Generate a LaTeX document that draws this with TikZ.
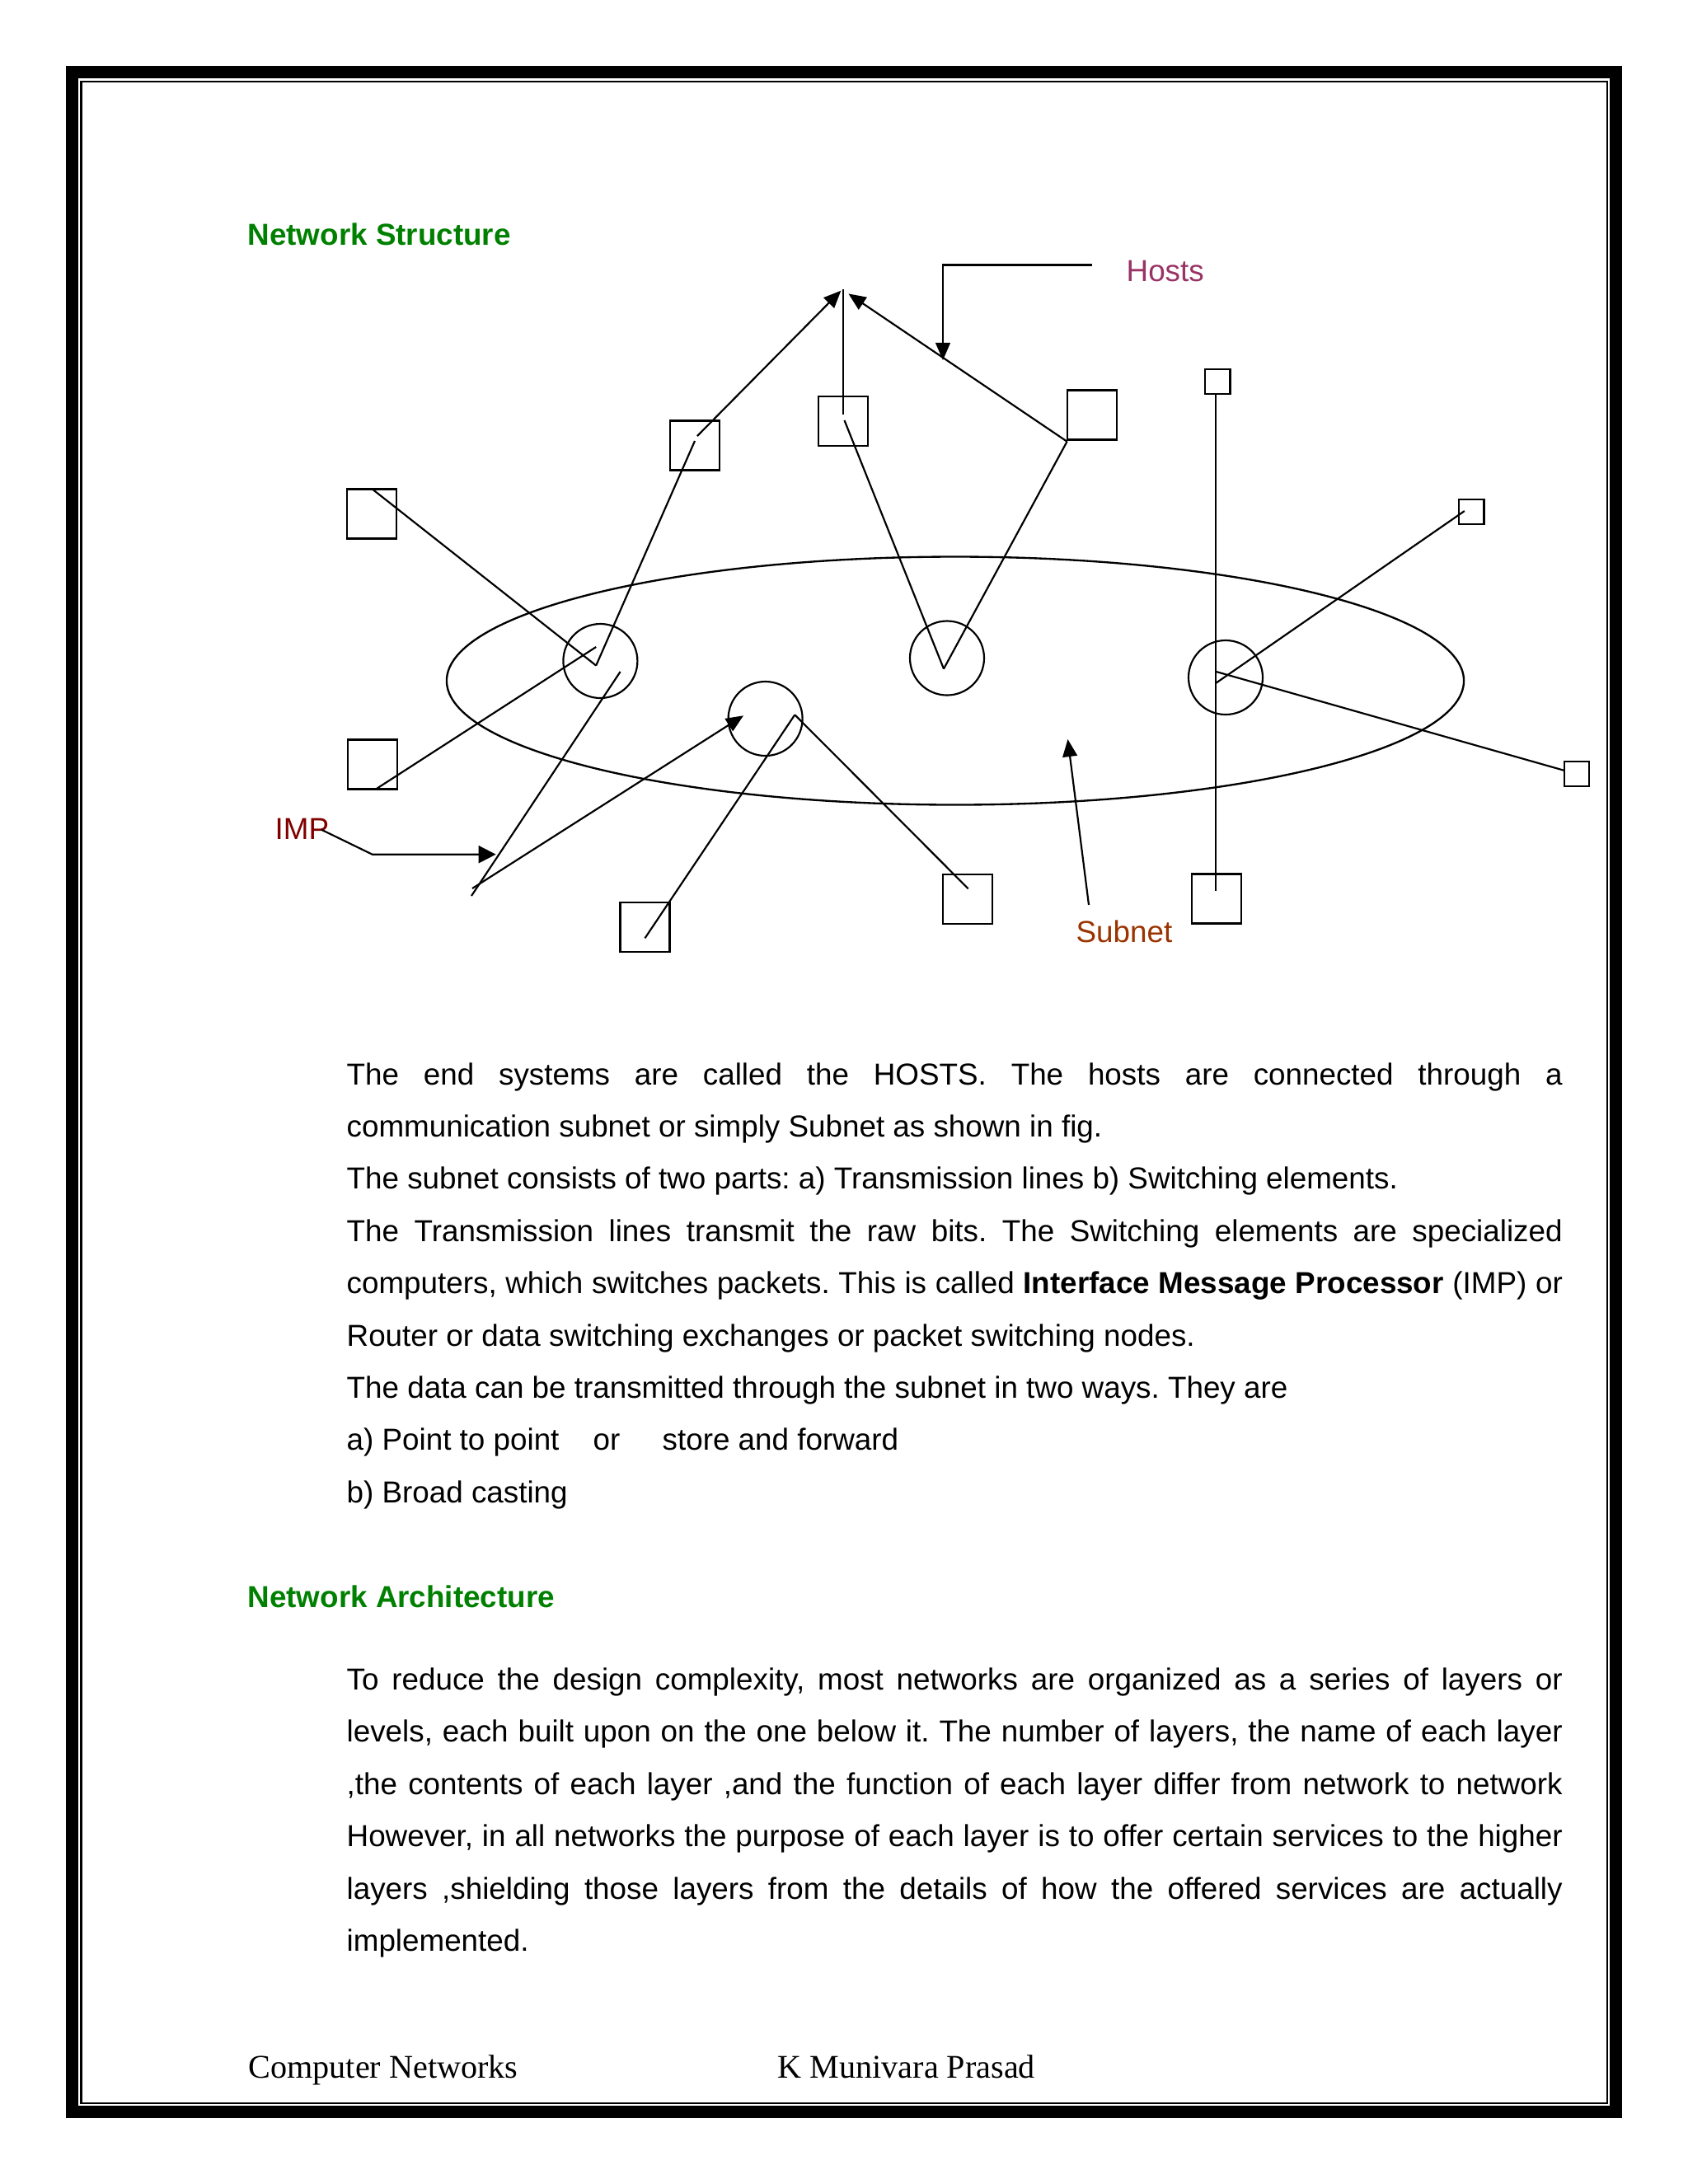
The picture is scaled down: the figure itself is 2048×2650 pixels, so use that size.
\documentclass[tikz,border=0pt]{standalone}
\usepackage{fontspec}
\setmainfont{Liberation Sans}
\newfontfamily\serifft{Liberation Serif}
\usetikzlibrary{arrows.meta,shapes.geometric}
\definecolor{headgreen}{RGB}{0,128,0}
\definecolor{hostcol}{RGB}{153,51,102}
\definecolor{impcol}{RGB}{128,0,0}
\definecolor{subcol}{RGB}{153,51,0}
\newcommand{\jline}[1]{\makebox[440.8pt][s]{#1}}
\begin{document}
\frenchspacing
\begin{tikzpicture}[x=0.29883pt,y=-0.29883pt,
  hostbox/.style={draw,line width=0.65pt,inner sep=0pt,minimum size=17.93pt},
  smallbox/.style={draw,line width=0.65pt,inner sep=0pt,minimum size=9pt},
  impnode/.style={draw,circle,line width=0.65pt,inner sep=0pt,minimum size=26.9pt},
  wire/.style={line width=0.65pt},
  arr/.style={wire,-{Triangle[length=6.3pt,width=5.3pt]}},
  bigarr/.style={wire,-{Triangle[length=6.3pt,width=6.3pt]}},
  bodytext/.style={anchor=base west,inner sep=0pt,font=\fontsize{11}{13}\selectfont},
  headtext/.style={anchor=base west,inner sep=0pt,text=headgreen,font=\fontsize{11}{13}\selectfont\bfseries},
  labeltext/.style={anchor=base west,inner sep=0pt,font=\fontsize{11}{13}\selectfont},
  foottext/.style={anchor=base west,inner sep=0pt,font=\serifft\fontsize{12}{14}\selectfont}
]
\useasboundingbox (0,0) rectangle (2048,2650);
% page frame
\draw[line width=4.48pt] (87.5,87.5) rectangle (1960.5,2562.5);
\draw[line width=0.6pt] (98.5,98.5) rectangle (1949.5,2552);

% headings
\node[headtext] (h1) at (300,297) {Network Structure};
\node[headtext] (h2) at (300,1950) {Network Architecture};

% subnet ellipse
\node[draw,ellipse,line width=0.7pt,inner sep=0pt,minimum width=368.8pt,minimum height=89.95pt] (subnet) at (1159,826) {};

% IMPs
\node[impnode] (c1) at (728.4,802) {};
\node[impnode] (c2) at (928.6,872) {};
\node[impnode] (c3) at (1149,798.5) {};
\node[impnode] (c4) at (1487,822) {};

% hosts
\node[hostbox] (b1) at (451.3,623.5) {};
\node[hostbox] (b2) at (451.8,927.5) {};
\node[hostbox] (b3) at (842.8,540.4) {};
\node[hostbox] (b4) at (1023.3,511) {};
\node[hostbox] (b5) at (1324.6,503.4) {};
\node[smallbox] (b6) at (1477.4,463.3) {};
\node[smallbox] (b7) at (1785.4,621) {};
\node[smallbox] (b8) at (1912.7,938.8) {};
\node[hostbox] (b9) at (1174.4,1091.2) {};
\node[hostbox] (b10) at (1476,1090.5) {};
\node[hostbox] (b11) at (782.5,1125) {};

% connection points
\coordinate (apexL) at (1020.4,352.6);
\coordinate (apexM) at (1023,351);
\coordinate (apexR) at (1029.4,356.4);
\coordinate (v1) at (723.2,807.5);
\coordinate (c1a) at (723.2,785);
\coordinate (c1b) at (752.6,815);
\coordinate (b1t) at (451.5,593.3);
\coordinate (b2b) at (457.3,956.7);
\coordinate (b3lo) at (843,535);
\coordinate (b3hi) at (846,529);
\coordinate (b4hi) at (1023,502.6);
\coordinate (b4lo) at (1024.5,510);
\coordinate (v3) at (1145,811.5);
\coordinate (b5c) at (1294.6,535.7);
\coordinate (lowA) at (572,1087);
\coordinate (lowB) at (573,1078);
\coordinate (c2tip) at (902,868.3);
\coordinate (c2r) at (964.3,867.3);
\coordinate (b11p) at (782.5,1138.3);
\coordinate (b9p) at (1174.7,1078.3);
\coordinate (b6b) at (1475,478.6);
\coordinate (b10p) at (1475,1081);
\coordinate (c4a) at (1475,829);
\coordinate (c4b) at (1475,814.8);
\coordinate (b7p) at (1776.8,620);
\coordinate (b8p) at (1897.3,934.7);

% host-IMP lines
\draw[wire] (b1t) -- (v1);
\draw[wire] (b2b) -- (c1a);
\draw[wire] (b3lo) -- (v1);
\draw[arr] (b3hi) -- (apexL);
\draw[wire] (b4hi) -- (apexM);
\draw[wire] (b4lo) -- (v3);
\draw[wire] (b5c) -- (v3);
\draw[arr] (b5c) -- (apexR);
\draw[wire] (c1b) -- (lowA);
\draw[arr] (lowB) -- (c2tip);
\draw[wire] (c2r) -- (b11p);
\draw[wire] (c2r) -- (b9p);
\draw[wire] (b6b) -- (b10p);
\draw[wire] (c4a) -- (b7p);
\draw[wire] (c4b) -- (b8p);

% labels
\node[labeltext,text=hostcol] (hosts) at (1366,341) {Hosts};
\node[labeltext,text=impcol] (imp) at (333,1018) {IMP};
\node[labeltext,text=subcol] (sublab) at (1305,1143) {Subnet};
\coordinate (hostsL) at (1325,321.4);
\coordinate (hostsK) at (1144,321.4);
\coordinate (hostsT) at (1144,437);
\draw[arr] (hostsL) -- (hostsK) -- (hostsT);
\coordinate (impS) at (390,1006.7);
\coordinate (impK) at (451.7,1036.7);
\coordinate (impT) at (601.7,1036.7);
\draw[bigarr] (impS) -- (impK) -- (impT);
\coordinate (subS) at (1321,1098);
\coordinate (subT) at (1295.5,897);
\draw[arr] (subS) -- (subT);

% body text, paragraph 1
\node[bodytext] (p1) at (420,1316) {\jline{The end systems are called the HOSTS. The hosts are connected through a}};
\node[bodytext] (p2) at (420,1379.4) {communication subnet or simply Subnet as shown in fig.};
\node[bodytext] (p3) at (420,1442.8) {The subnet consists of two parts: a) Transmission lines b) Switching elements.};
\node[bodytext] (p4) at (420,1506.2) {\jline{The Transmission lines transmit the raw bits. The Switching elements are specialized}};
\node[bodytext] (p5) at (420,1569.6) {\jline{computers, which switches packets. This is called \textbf{Interface Message Processor} (IMP) or}};
\node[bodytext] (p6) at (420,1633) {Router or data switching exchanges or packet switching nodes.};
\node[bodytext] (p7) at (420,1696.4) {The data can be transmitted through the subnet in two ways. They are};
\node[bodytext] (p8) at (420,1759.8) {a) Point to point};
\node[bodytext] (p8b) at (719,1759.8) {or};
\node[bodytext] (p8c) at (803,1759.8) {store and forward};
\node[bodytext] (p9) at (420,1823.2) {b) Broad casting};

% paragraph 2
\node[bodytext] (q1) at (420,2050.5) {\jline{To reduce the design complexity, most networks are organized as a series of layers or}};
\node[bodytext] (q2) at (420,2113.9) {\jline{levels, each built upon on the one below it. The number of layers, the name of each layer}};
\node[bodytext] (q3) at (420,2177.3) {\jline{,the contents of each layer ,and the function of each layer differ from network to network}};
\node[bodytext] (q4) at (420,2240.7) {\jline{However, in all networks the purpose of each layer is to offer certain services to the higher}};
\node[bodytext] (q5) at (420,2304.1) {\jline{layers ,shielding those layers from the details of how the offered services are actually}};
\node[bodytext] (q6) at (420,2367.5) {implemented.};

% footer
\node[foottext] (f1) at (301,2521) {Computer Networks};
\node[foottext] (f2) at (943,2521) {K Munivara Prasad};
\end{tikzpicture}
\end{document}
